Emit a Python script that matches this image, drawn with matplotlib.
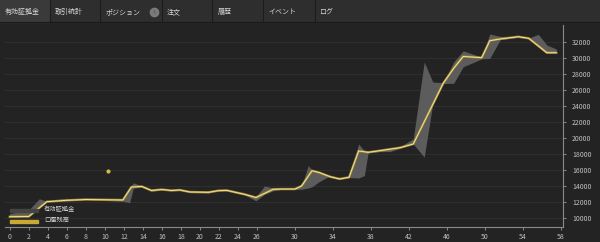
import numpy as np
import matplotlib.pyplot as plt
from matplotlib.patches import Rectangle
from matplotlib.lines import Line2D

plt.rcParams['font.family'] = ['Noto Sans CJK JP', 'DejaVu Sans']

# balance line (口座残高)
bal_x = [0, 2, 3.9, 6, 8, 11.9, 12.8, 13.9, 14.9, 16, 17, 17.9, 18.95, 20.9, 21.9, 22.8,
         24.7, 25.9, 27.7, 28.6, 30.0, 30.7, 31.8, 32.6, 33.7, 34.7, 35.7, 36.7, 37.7,
         38.9, 41.05, 42.45, 45.6, 46.7, 47.7, 49.65, 50.5, 51.6, 53.5, 54.6, 56.5, 57.5]
bal_y = [10160, 10190, 12040, 12210, 12310, 12250, 13875, 13940, 13440, 13560, 13440, 13500,
         13250, 13210, 13410, 13460, 12960, 12560, 13590, 13620, 13620, 14000, 15910, 15660,
         15160, 14880, 15090, 18380, 18210, 18410, 18790, 19250, 26840, 28710, 30190, 30040,
         32160, 32380, 32660, 32460, 30660, 30660]

# equity band (有効証拠金), low / high
eq_x = [0, 2, 3.1, 3.9, 6, 8, 11.9, 12.6, 13.0, 13.9, 14.9, 16, 17, 18, 19, 21, 22, 22.8,
        24.7, 25.9, 26.8, 27.7, 28.6, 30.0, 30.7, 31.4, 31.8, 32.5, 33.5, 34.7, 35.7,
        36.7, 37.3, 37.7, 38.9, 40, 41.05, 42.45, 43.6, 44.5, 45.6, 46.7, 47.7, 49.65,
        50.5, 51.6, 53.5, 54.6, 55.6, 56.5, 57.5]
eq_lo = [10100, 10150, 11300, 12000, 12200, 12280, 12100, 11900, 13700, 13900, 13350, 13500,
         13400, 13450, 13200, 13150, 13400, 13400, 12900, 12150, 12950, 13400, 13580, 13550,
         13600, 13750, 13900, 14500, 15150, 14850, 15050, 15000, 15300, 18150, 18300, 18300,
         18700, 19250, 17600, 24300, 26800, 26840, 28900, 29900, 29950, 32300, 32600, 32400,
         31500, 30660, 30660]
eq_hi = [10550, 11000, 12400, 12100, 12450, 12330, 12250, 13700, 14400, 14000, 13450, 13600,
         13500, 13550, 13300, 13250, 13550, 13500, 13050, 12650, 14000, 13750, 13650, 13650,
         14000, 16550, 16000, 15700, 15400, 15050, 15150, 19250, 18400, 18250, 18450, 18700,
         18900, 19900, 29500, 27000, 26900, 29500, 30900, 30100, 33000, 32700, 32700, 32500,
         32960, 31625, 31125]

stray_x = [10.35]
stray_y = [15900]

xticks = [0, 2, 4, 6, 8, 10, 12, 14, 16, 18, 20, 22, 24, 26, 30, 34, 38, 42, 46, 50, 54, 58]
yticks = list(range(10000, 32001, 2000))

bg = '#232323'
W, H = 600, 242
fig = plt.figure(figsize=(6, 2.42), dpi=100, facecolor=bg)
ax = fig.add_axes([5 / W, 1 - 227 / H, 558 / W, 202 / H])
ax.set_facecolor(bg)

ax.fill_between(eq_x, eq_lo, eq_hi, color='#5c5c5c', lw=0, zorder=2)
ax.plot(bal_x, bal_y, color='#9c8430', lw=1.7, zorder=3, solid_joinstyle='round')
ax.plot(bal_x, bal_y, color='#f3e3a0', lw=0.7, zorder=4, solid_joinstyle='round')
ax.plot(stray_x, stray_y, 'o', color='#d8b94a', ms=2, zorder=4)

ax.set_xlim(-0.5, 58.2)
ax.set_ylim(8875, 34125)
ax.set_xticks(xticks)
ax.set_yticks(yticks)
ax.yaxis.tick_right()
ax.tick_params(axis='both', colors='#9a9a9a', labelcolor='#c0c0c0', labelsize=5,
               length=2.5, width=0.6, pad=2)
ax.tick_params(axis='y', pad=4)
for s in ['top', 'left']:
    ax.spines[s].set_visible(False)
for s in ['bottom', 'right']:
    ax.spines[s].set_color('#8a8a8a')
    ax.spines[s].set_linewidth(0.8)
ax.grid(axis='y', color='#2f2f2f', lw=0.7)
ax.set_axisbelow(True)

# legend, drawn by hand (pixel positions -> axes fraction)
def axf(px, py):
    return (px - 5) / 558, (227 - py) / 202

legend_items = [('有効証拠金', '#444444', 210.5), ('口座残高', '#c9a834', 221.5)]
for label, col, py in legend_items:
    x0, y0 = axf(10, py + 1.5)
    ax.add_patch(Rectangle((x0, y0), 28 / 558, 3 / 202, transform=ax.transAxes,
                           color=col, zorder=5, clip_on=False))
    tx, ty = axf(44, py - 1.5)
    ax.text(tx, ty, label, transform=ax.transAxes, color='#d0d0d0', fontsize=4.5,
            va='center', ha='left', zorder=5)

# tab bar
fig.patches.append(Rectangle((0, 1 - 22 / H), 1, 22 / H, transform=fig.transFigure,
                             color='#2e2e2e', zorder=0))
fig.patches.append(Rectangle((0, 1 - 22 / H), 50 / W, 22 / H, transform=fig.transFigure,
                             color='#3a3a3a', zorder=0))
tabs = ['有効証拠金', '取引統計', 'ポジション', '注文', '履歴', 'イベント', 'ログ']
tab_x = [5, 55, 106, 167, 218, 268, 319]
seps = [50, 100, 162, 212, 263, 315]
for label, tx in zip(tabs, tab_x):
    fig.text(tx / W, 1 - 12 / H, label, color='#d8d8d8', fontsize=5, va='center', ha='left')
for sx in seps:
    fig.add_artist(Line2D([sx / W, sx / W], [1 - 21 / H, 1], color='#1c1c1c', lw=0.8))
fig.add_artist(Line2D([0, 1], [1 - 22 / H, 1 - 22 / H], color='#1a1a1a', lw=0.8))
fig.add_artist(Line2D([154 / W], [1 - 12 / H], marker='o', ms=6, color='#7a7a7a', lw=0))
fig.text(154 / W, 1 - 12 / H, '!', color='#2e2e2e', fontsize=4, ha='center', va='center')

fig.savefig('out.png', dpi=100, facecolor=bg)
